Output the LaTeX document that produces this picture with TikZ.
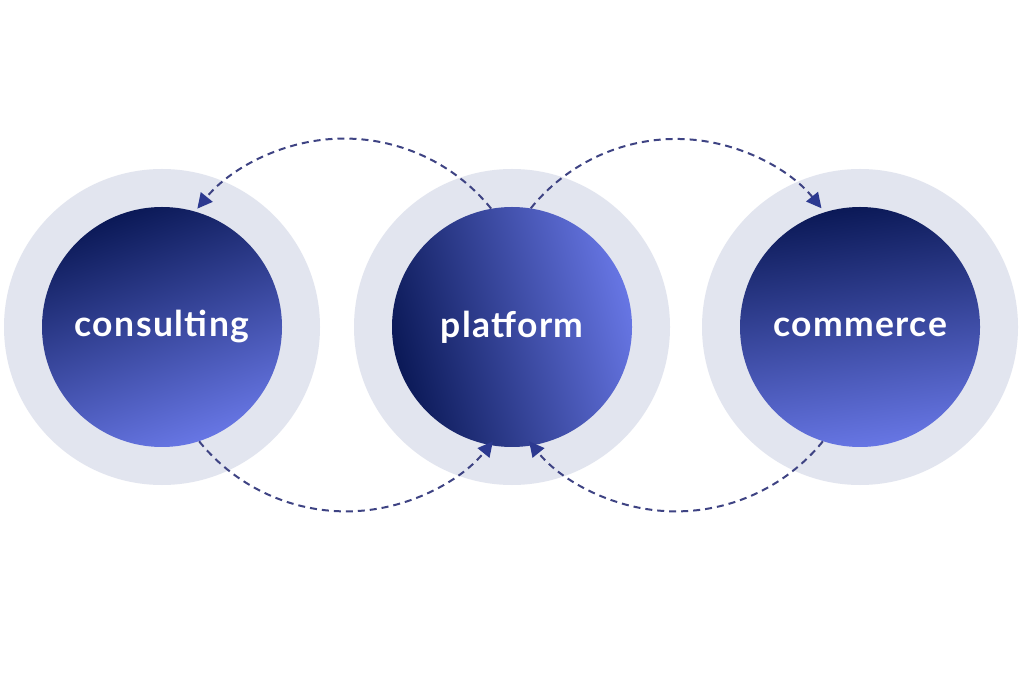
\documentclass[tikz,border=0pt]{standalone}
\usepackage{fontspec}
\setmainfont{Lato}[BoldFont=* Bold]
\usetikzlibrary{arrows.meta}
\definecolor{ringgray}{HTML}{E2E5EF}
\definecolor{navydark}{HTML}{0B1957}
\definecolor{bluelight}{HTML}{6776E4}
\definecolor{flowline}{HTML}{3E4383}
\definecolor{flowtip}{HTML}{2C3990}
\tikzset{
  ring/.style={circle, fill=ringgray, minimum size=316pt, inner sep=0pt, draw=none},
  core/.style={circle, minimum size=240pt, inner sep=0pt, draw=none, text=white,
    font=\bfseries\addfontfeatures{LetterSpace=4}\fontsize{35.5}{35.5}\selectfont},
  flow/.style={draw=flowline, line width=2pt, dash pattern=on 7pt off 5pt,
    -{Triangle[length=15pt, width=15pt, fill=flowtip, color=flowtip]}},
}
\begin{document}
\begin{tikzpicture}[x=1pt, y=1pt]
\useasboundingbox[fill=white] (0,0) rectangle (1024,672);
\node[ring] (ring1) at (162,345) {};
\node[ring] (ring2) at (512,345) {};
\node[ring] (ring3) at (860,345) {};
\node[core, top color=navydark, bottom color=bluelight, shading angle=20] (consulting) at (162,345) {consulting};
\node[core, left color=navydark, right color=bluelight, shading angle=105] (platform) at (512,345) {platform};
\node[core, top color=navydark, bottom color=bluelight, shading angle=8] (commerce) at (860,345) {commerce};
\draw[flow] (platform.100) arc[start angle=39, end angle=141, radius=189];
\draw[flow] (platform.81) arc[start angle=141, end angle=39, radius=187];
\draw[flow] (consulting.-72) arc[start angle=-141, end angle=-39, radius=189];
\draw[flow] (commerce.-108) arc[start angle=-39, end angle=-141, radius=189];
\end{tikzpicture}
\end{document}
